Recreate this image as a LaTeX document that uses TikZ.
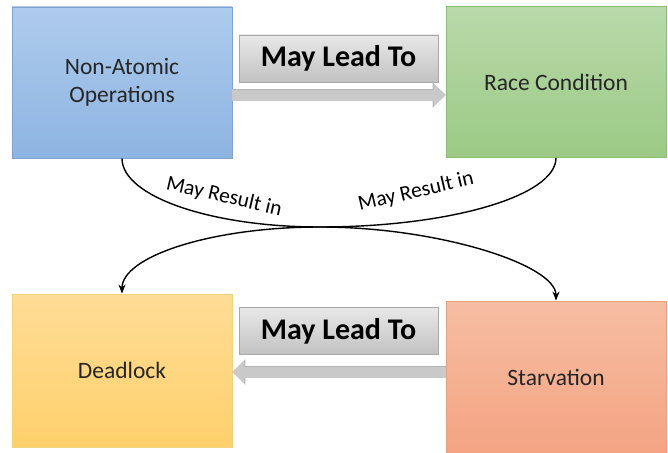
\documentclass[tikz,border=0pt]{standalone}
\usepackage{fontspec}
\setmainfont{Carlito}
\usetikzlibrary{arrows.meta}

\definecolor{blueTop}{HTML}{AECBEC}
\definecolor{blueBot}{HTML}{8DB4E2}
\definecolor{blueEdge}{HTML}{7FA2CE}
\definecolor{greenTop}{HTML}{B9D9AA}
\definecolor{greenBot}{HTML}{9BCA85}
\definecolor{greenEdge}{HTML}{8DBE76}
\definecolor{yellowTop}{HTML}{FFDC96}
\definecolor{yellowBot}{HTML}{FFD06C}
\definecolor{yellowEdge}{HTML}{F3D27E}
\definecolor{salmonTop}{HTML}{F6BDA2}
\definecolor{salmonBot}{HTML}{F4A483}
\definecolor{salmonEdge}{HTML}{E99E7C}
\definecolor{leadTop}{HTML}{E8E8E8}
\definecolor{leadBot}{HTML}{C2C2C2}
\definecolor{leadEdge}{HTML}{A8A8A8}
\definecolor{bandFill}{HTML}{C9C9C9}
\definecolor{bandEdge}{HTML}{B4B4B4}

\begin{document}
\begin{tikzpicture}[x=1pt,y=-1pt,
    box/.style={draw, line width=0.8pt, minimum width=220pt, minimum height=151pt,
        inner sep=0pt, align=center, text=black!85,
        font=\fontsize{23.5}{28}\selectfont},
    leadbox/.style={draw=leadEdge, line width=0.8pt, top color=leadTop, bottom color=leadBot,
        minimum width=199pt, minimum height=47pt, inner sep=0pt,
        font=\bfseries\fontsize{30}{32}\selectfont},
    leadarrow/.style={draw=bandFill, line width=11pt,
        -{Triangle[length=12pt,width=23pt,line width=0pt]},
        preaction={draw=bandEdge, line width=12.6pt,
            -{Triangle[length=13pt,width=25.5pt,line width=0pt]}}},
    result/.style={line width=1.4pt, -{Stealth[length=9pt,width=7pt]}},
    resultlabel/.style={font=\fontsize{21.5}{24}\selectfont, inner sep=0pt}]

    \useasboundingbox (0,0) rectangle (668,452);

    % Boxes
    \node[box, draw=blueEdge, top color=blueTop, bottom color=blueBot]
        (nonatomic) at (122,82.5) {Non-Atomic\\Operations};
    \node[box, draw=greenEdge, top color=greenTop, bottom color=greenBot]
        (racecond) at (556,82) {Race Condition};
    \node[box, draw=yellowEdge, top color=yellowTop, bottom color=yellowBot,
        minimum height=153pt] (deadlock) at (122,370.5) {Deadlock};
    \node[box, draw=salmonEdge, top color=salmonTop, bottom color=salmonBot,
        minimum height=152pt] (starvation) at (556,377) {Starvation};

    % May Lead To
    \node[leadbox] (leadtop) at (338.5,58.5) {May Lead To};
    \node[leadbox] (leadbot) at (338.5,331) {May Lead To};
    \draw[leadarrow] ([yshift=-12.5pt]nonatomic.east) -- ([yshift=-12.5pt]nonatomic.east -| racecond.west);
    \draw[leadarrow] ([yshift=5pt]starvation.west) -- ([yshift=5pt]starvation.west -| deadlock.east);

    % May Result in
    \coordinate (cross) at (320,227);
    \draw[result] (nonatomic.south) .. controls +(0,38) and +(-109,0) .. (cross)
        .. controls +(118,0) and +(0,-36) .. (starvation.north);
    \draw[result] (racecond.south) .. controls +(0,38) and +(130,0) .. (cross)
        .. controls +(-109,0) and +(0,-37) .. (deadlock.north);
    \node[resultlabel, rotate=-13] (resultleft) at (224,197) {May Result in};
    \node[resultlabel, rotate=13] (resultright) at (416,192) {May Result in};
\end{tikzpicture}
\end{document}
